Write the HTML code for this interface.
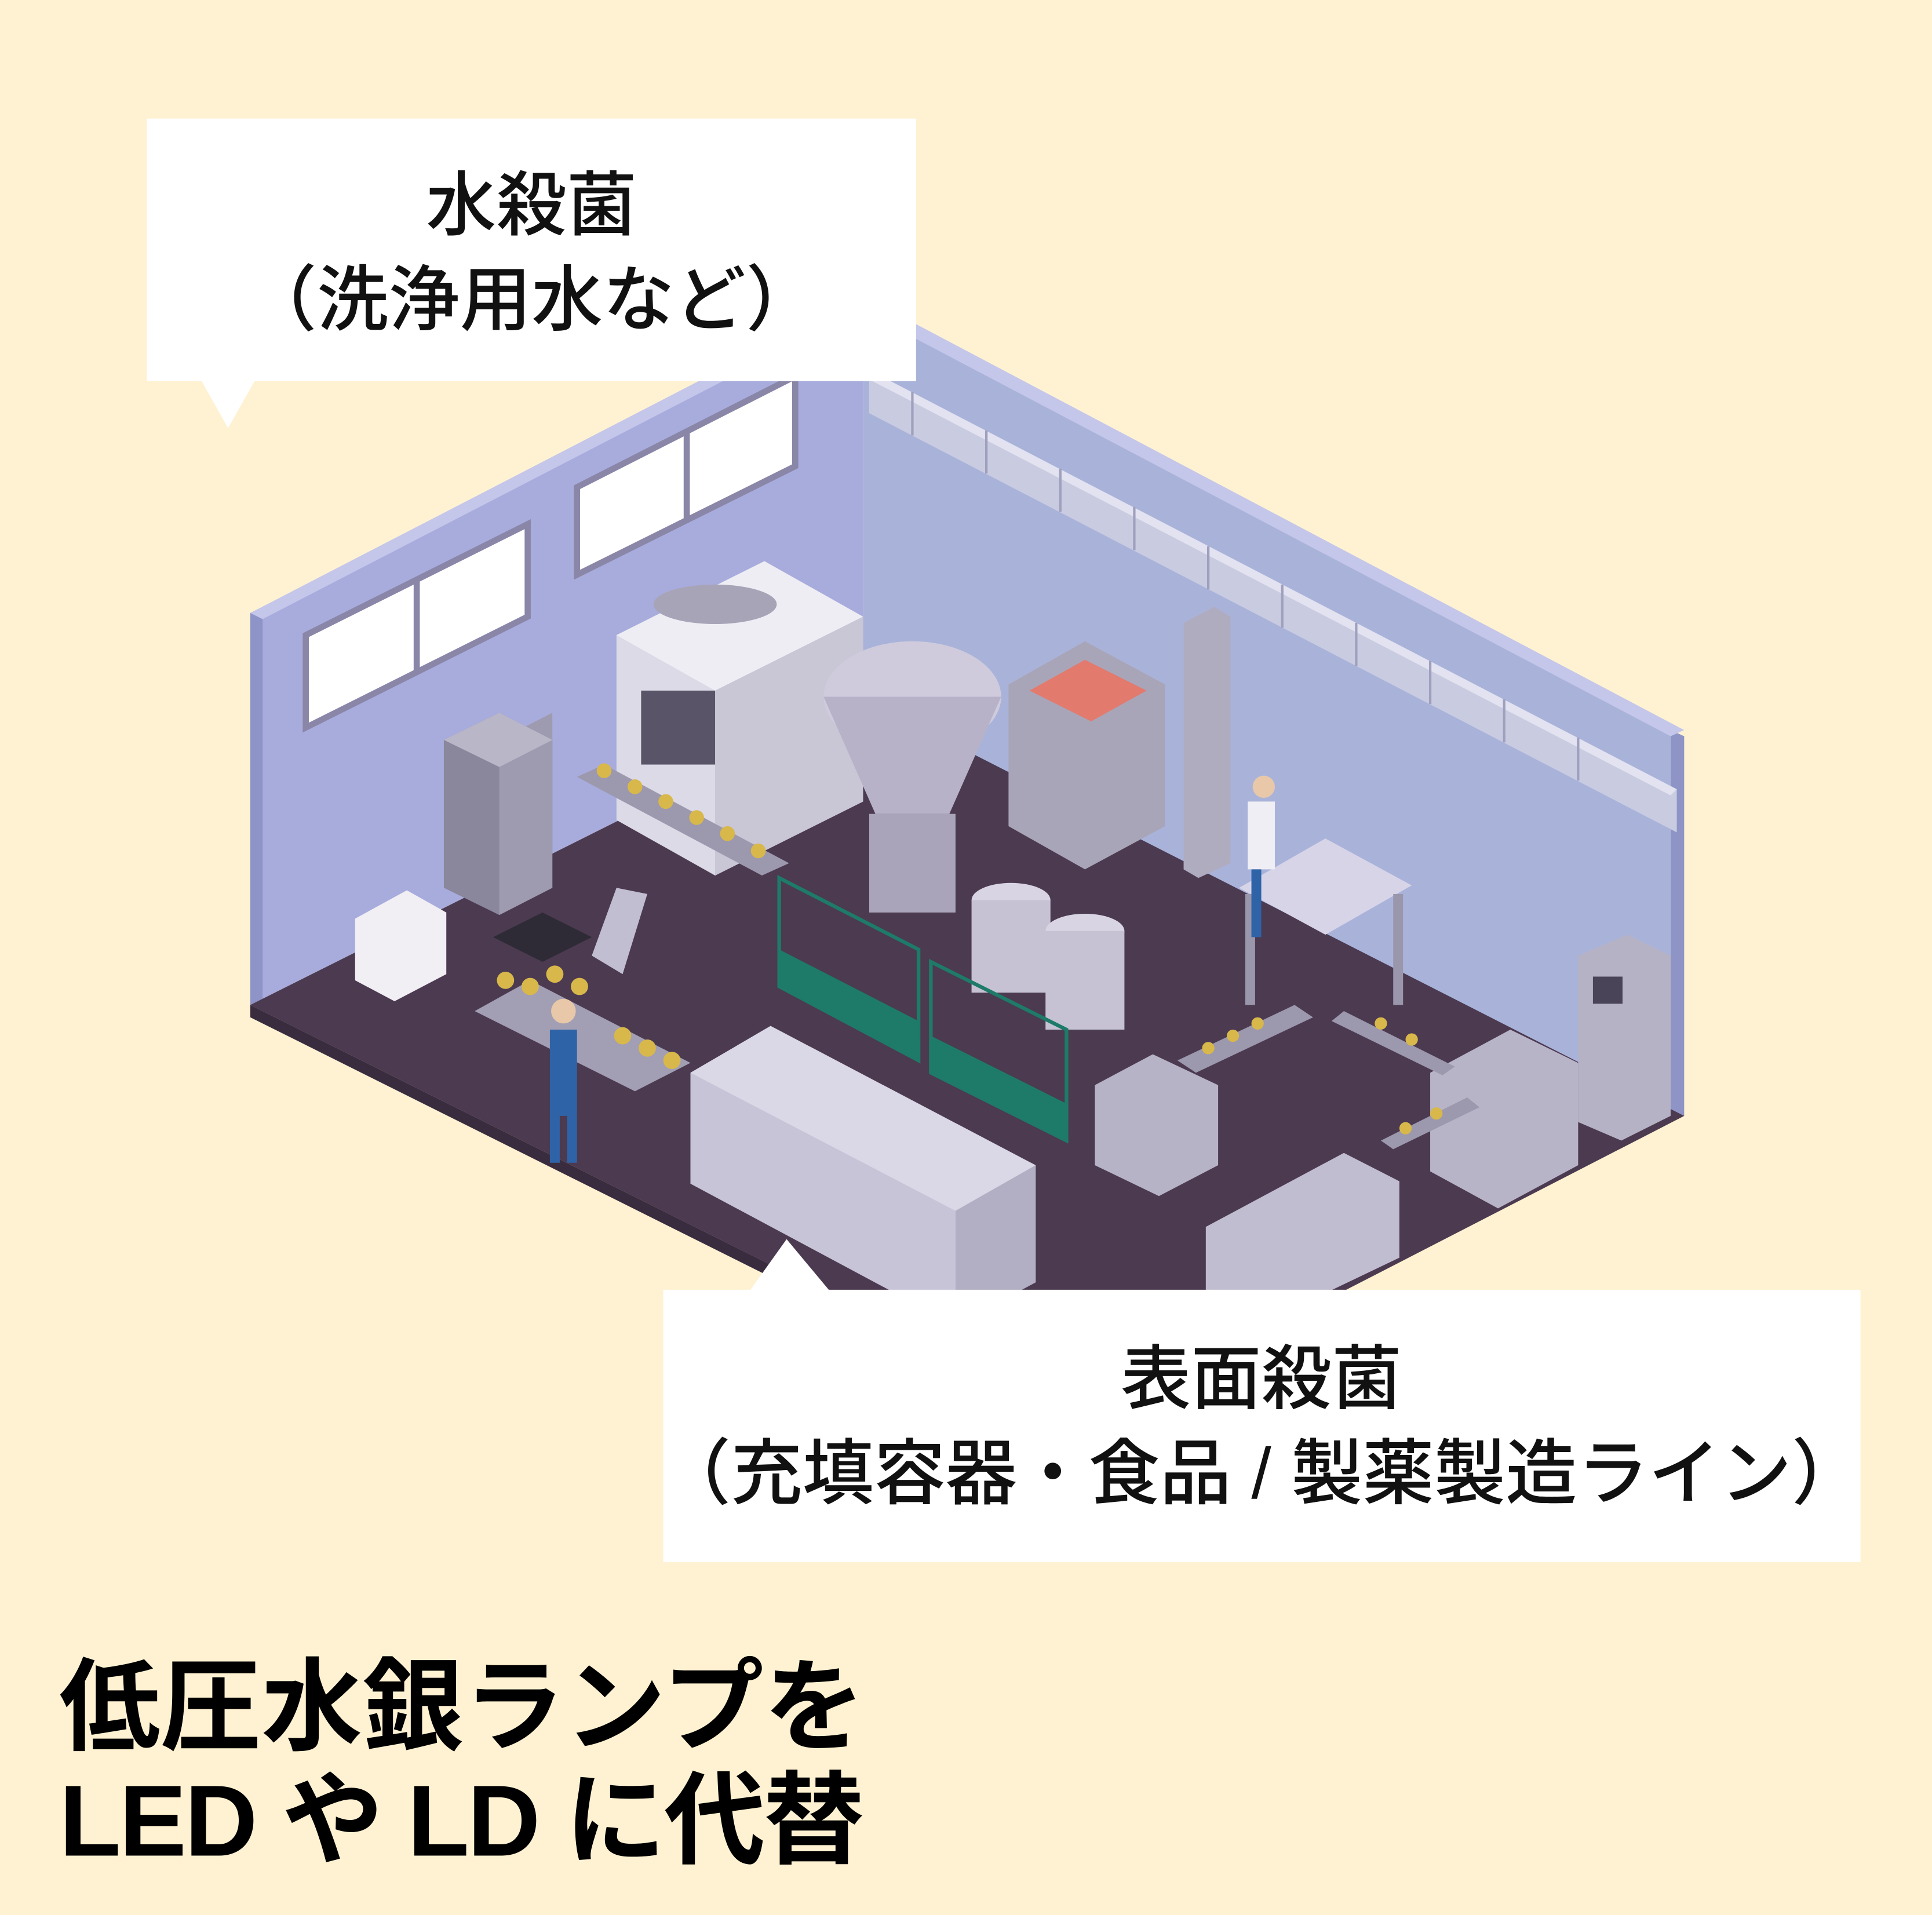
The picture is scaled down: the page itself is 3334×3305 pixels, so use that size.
<!DOCTYPE html>
<html><head><meta charset="utf-8">
<style>
html,body{margin:0;padding:0;background:#FFF2D2;}
svg{display:block}
text{font-family:"Liberation Sans","Noto Sans CJK JP",sans-serif;}
</style></head>
<body>
<svg width="3334" height="3305" viewBox="0 0 1567 1553" xmlns="http://www.w3.org/2000/svg">
<rect width="1567" height="1553" fill="#FFF2D2"/>
<polygon points="203,497 700,249 700,566 203,815" fill="#A8ACDC"/>
<polygon points="203,497 213,492 213,810 203,815" fill="#8E93C8"/>
<polygon points="700,249 1355,592 1355,908 700,566" fill="#A9B3DA"/>
<polygon points="1355,592 1366,597 1366,905 1355,908" fill="#8E95C6"/>
<polygon points="203,497 700,240 710,245 213,502" fill="#C4C6EA"/>
<polygon points="700,240 1366,592 1355,597 700,252" fill="#C4C6EA"/>
<polygon points="203,815 700,566 1366,905 882,1154" fill="#4B3A50"/>
<polygon points="203,815 882,1154 882,1164 203,825" fill="#3A2C3F"/>
<g fill="#FFFFFF" stroke="#8A86A8" stroke-width="5">
<polygon points="248,515 428,425 428,500 248,590"/>
<polygon points="468,395 645,305 645,378 468,466"/>
</g>
<g stroke="#8A86A8" stroke-width="5"><line x1="338" y1="470" x2="338" y2="545"/><line x1="557" y1="350" x2="557" y2="422"/></g>
<polygon points="705,300 1360,640 1360,675 705,335" fill="#C9CBE0"/>
<polygon points="705,300 1360,640 1355,645 700,305" fill="#E2E2F0"/>
<g stroke="#9FA0BE" stroke-width="2">
<line x1="740" y1="318" x2="740" y2="353"/><line x1="800" y1="349" x2="800" y2="384"/><line x1="860" y1="380" x2="860" y2="415"/><line x1="920" y1="411" x2="920" y2="446"/><line x1="980" y1="443" x2="980" y2="478"/><line x1="1040" y1="474" x2="1040" y2="509"/><line x1="1100" y1="505" x2="1100" y2="540"/><line x1="1160" y1="536" x2="1160" y2="571"/><line x1="1220" y1="567" x2="1220" y2="602"/><line x1="1280" y1="598" x2="1280" y2="633"/>
</g>
<polygon points="360,600 405,578 448,600 448,720 405,742 360,720" fill="#8A879C"/>
<polygon points="405,600 448,578 448,720 405,742" fill="#9E9BB0"/>
<polygon points="360,600 405,578 448,600 405,622" fill="#B9B6C8"/>
<polygon points="288,745 330,722 362,740 362,790 320,812 288,795" fill="#F1EEF4"/>
<polygon points="500,515 620,455 700,500 700,650 580,710 500,665" fill="#DCDAE6"/>
<polygon points="500,515 620,455 700,500 580,560" fill="#EEEDF4"/>
<polygon points="580,560 700,500 700,650 580,710" fill="#C9C6D6"/>
<rect x="520" y="560" width="60" height="60" fill="#5A5468"/>
<ellipse cx="580" cy="490" rx="50" ry="16" fill="#A8A4B8"/>
<ellipse cx="740" cy="565" rx="72" ry="45" fill="#CFCBDC"/>
<polygon points="668,565 812,565 770,660 710,660" fill="#B7B2C8"/>
<rect x="705" y="660" width="70" height="80" fill="#A9A4BA"/>
<polygon points="818,555 880,520 945,555 945,670 880,705 818,670" fill="#A9A5B8"/>
<polygon points="835,560 880,535 930,560 885,585" fill="#E27A6E"/>
<polygon points="960,505 985,492 998,500 998,700 972,712 960,705" fill="#B0ACC0"/>
<ellipse cx="820" cy="730" rx="32" ry="14" fill="#D8D4E4"/>
<rect x="788" y="730" width="64" height="75" fill="#C6C2D4"/>
<ellipse cx="880" cy="755" rx="32" ry="14" fill="#D8D4E4"/>
<rect x="848" y="755" width="64" height="80" fill="#C6C2D4"/>
<polygon points="1005,720 1075,680 1145,718 1075,758" fill="#D8D4E8"/>
<rect x="1010" y="725" width="8" height="90" fill="#9A96AC"/><rect x="1130" y="725" width="8" height="90" fill="#9A96AC"/>
<polygon points="1280,775 1320,758 1355,775 1355,905 1315,925 1280,910" fill="#B6B2C6"/>
<rect x="1292" y="792" width="24" height="22" fill="#4A4458"/>
<polygon points="1160,870 1225,835 1280,862 1280,945 1215,980 1160,950" fill="#B8B4C8"/>
<polygon points="888,880 935,855 988,880 988,945 940,970 888,945" fill="#B7B3C7"/>
<polygon points="978,995 1090,935 1135,958 1135,1020 1020,1075 978,1050" fill="#C1BDD0"/>
<g fill="none" stroke="#1E7A69" stroke-width="3">
<polygon points="632,712 745,770 745,860 632,800"/>
<polygon points="755,780 865,835 865,925 755,870"/>
</g>
<polygon points="632,770 745,828 745,860 632,800" fill="#1E7A69"/>
<polygon points="755,840 865,895 865,925 755,870" fill="#1E7A69"/>
<polygon points="468,630 490,620 640,700 618,710" fill="#9C98AE"/>
<polygon points="385,820 430,795 560,862 515,885" fill="#A29EB4"/>
<polygon points="955,860 1050,815 1065,825 970,870" fill="#9C98AE"/>
<polygon points="1090,820 1180,865 1170,872 1080,828" fill="#9C98AE"/>
<polygon points="1120,925 1190,890 1200,898 1130,932" fill="#9C98AE"/>
<g fill="#D8B84A">
<circle cx="490" cy="625" r="6"/><circle cx="515" cy="638" r="6"/><circle cx="540" cy="650" r="6"/><circle cx="565" cy="663" r="6"/><circle cx="590" cy="676" r="6"/><circle cx="615" cy="690" r="6"/>
<circle cx="410" cy="795" r="7"/><circle cx="430" cy="800" r="7"/><circle cx="450" cy="790" r="7"/><circle cx="470" cy="800" r="7"/><circle cx="505" cy="840" r="7"/><circle cx="525" cy="850" r="7"/><circle cx="545" cy="860" r="7"/>
<circle cx="980" cy="850" r="5"/><circle cx="1000" cy="840" r="5"/><circle cx="1020" cy="830" r="5"/><circle cx="1120" cy="830" r="5"/><circle cx="1145" cy="843" r="5"/><circle cx="1140" cy="915" r="5"/><circle cx="1165" cy="903" r="5"/>
</g>
<polygon points="400,760 440,740 480,760 440,780" fill="#2E2A36"/>
<path d="M480 775 L500 720 L525 725 L505 790 Z" fill="#C2BED2"/>
<polygon points="560,870 625,832 840,945 840,1040 775,1075 560,960" fill="#C8C4D8"/>
<polygon points="560,870 625,832 840,945 775,982" fill="#DAD7E6"/>
<polygon points="775,982 840,945 840,1040 775,1075" fill="#B2AEC4"/>
<g><rect x="446" y="835" width="22" height="70" fill="#2F63A8"/><circle cx="457" cy="820" r="10" fill="#E8C8A8"/><rect x="446" y="905" width="8" height="38" fill="#2F63A8"/><rect x="460" y="905" width="8" height="38" fill="#2F63A8"/></g>
<g><rect x="1012" y="650" width="22" height="55" fill="#EEEEF4"/><circle cx="1025" cy="638" r="9" fill="#E8C8A8"/><rect x="1015" y="705" width="8" height="55" fill="#2F63A8"/></g>
<rect x="119" y="96" width="624" height="213" fill="#FFFFFF"/>
<polygon points="163,308 207,308 185,347" fill="#FFFFFF"/>
<text x="431" y="186" font-size="57" text-anchor="middle" font-weight="500" fill="#111">水殺菌</text>
<text x="431" y="263" font-size="58" text-anchor="middle" font-weight="500" fill="#111">（洗浄用水など）</text>
<rect x="538" y="1046" width="971" height="221" fill="#FFFFFF"/>
<polygon points="608,1047 673,1047 638,1005" fill="#FFFFFF"/>
<text x="1023" y="1138" font-size="57" text-anchor="middle" font-weight="500" fill="#111">表面殺菌</text>
<text x="1023" y="1215" font-size="58" text-anchor="middle" font-weight="500" fill="#111">（充填容器・食品 / 製薬製造ライン）</text>
<text x="48" y="1413" font-size="82" font-weight="bold" fill="#000">低圧水銀ランプを</text>
<text x="48" y="1505" font-size="82" font-weight="bold" fill="#000" letter-spacing="-1.5">LED や LD に代替</text>
</svg>
</body></html>
